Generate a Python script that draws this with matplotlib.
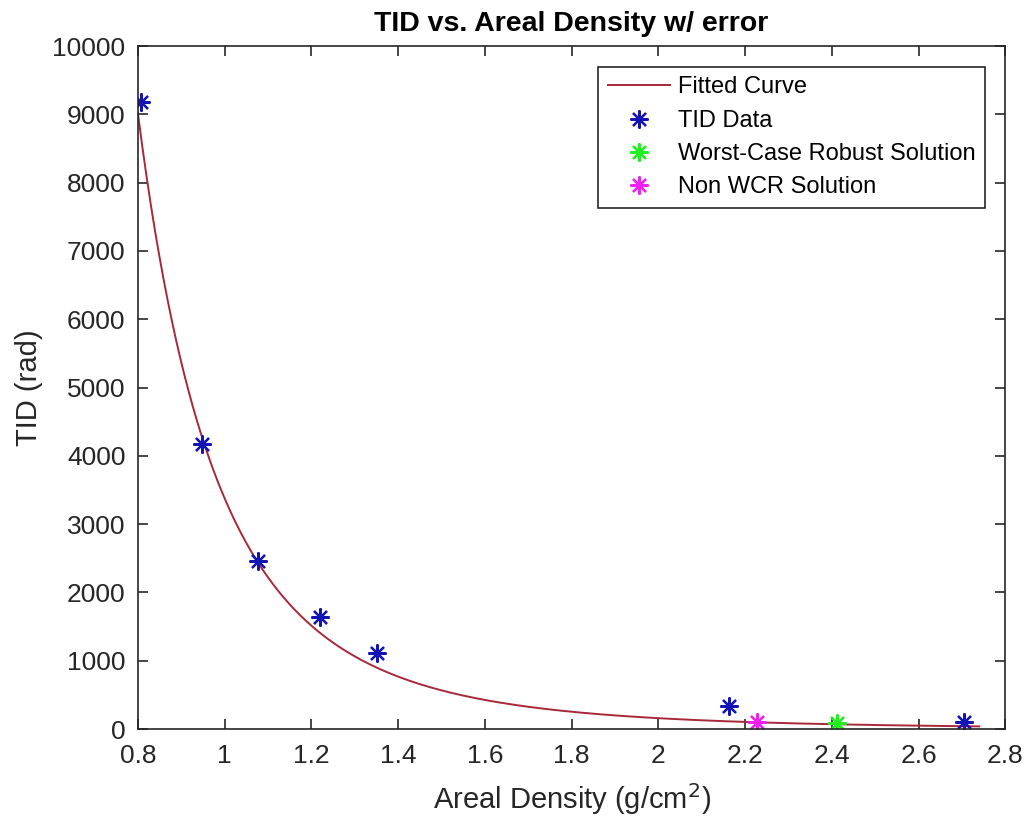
import numpy as np
import matplotlib
matplotlib.use("Agg")
import matplotlib.pyplot as plt

plt.rcParams["font.family"] = ["Liberation Sans", "DejaVu Sans"]

# ------- DATA ----------------------------------
tid_density = [0.807, 0.948, 1.078, 1.221, 1.351, 2.163, 2.704]
tid_values  = [9180, 4173, 2460, 1645, 1118, 337, 98]

wcr_density = [2.413]
wcr_values  = [83]

non_wcr_density = [2.227]
non_wcr_values  = [98]

# power-law fit TID = a * x^b, coefficients
FIT_A = 3378.0
FIT_B = -4.4
fit_range = (0.8, 2.74)

x_ticks = [0.8, 1, 1.2, 1.4, 1.6, 1.8, 2, 2.2, 2.4, 2.6, 2.8]
y_ticks = list(range(0, 10001, 1000))

# ------- CHART ----------
fig = plt.figure(figsize=(10.29, 8.22), dpi=100)
ax = fig.add_axes([0.134, 0.113, 0.843, 0.831])

xf = np.linspace(fit_range[0], fit_range[1], 400)
ax.plot(xf, FIT_A * xf ** FIT_B, color="#A8283A", linewidth=1.4, label="Fitted Curve")

star = (8, 2, 0)
ax.plot(tid_density, tid_values, linestyle="none", marker=star, markersize=13,
        markeredgewidth=1.6, color="#1414B4", label="TID Data")
ax.plot(wcr_density, wcr_values, linestyle="none", marker=star, markersize=13,
        markeredgewidth=1.6, color="#22EE22", label="Worst-Case Robust Solution")
ax.plot(non_wcr_density, non_wcr_values, linestyle="none", marker=star, markersize=13,
        markeredgewidth=1.6, color="#F020F0", label="Non WCR Solution")

ax.set_xlim(0.8, 2.8)
ax.set_ylim(0, 10000)
ax.set_xticks(x_ticks)
ax.set_xticklabels([f"{t:g}" for t in x_ticks])
ax.set_yticks(y_ticks)
ax.tick_params(direction="in", length=7, width=1.2, labelsize=19,
               top=True, right=True, colors="#262626", labelcolor="#262626")
ax.tick_params(axis="x", pad=11)
ax.tick_params(axis="y", pad=9)
for s in ax.spines.values():
    s.set_linewidth(1.2)
    s.set_color("#262626")

ax.set_title("TID vs. Areal Density w/ error", fontsize=20.5, fontweight="bold", pad=11)
ax.set_xlabel("Areal Density (g/cm$^2$)", fontsize=21, color="#262626", labelpad=9)
ax.set_ylabel("TID (rad)", fontsize=21, color="#262626", labelpad=7)

leg = ax.legend(loc="upper right", bbox_to_anchor=(0.977, 0.97), fontsize=17,
                frameon=True, fancybox=False, edgecolor="#262626", framealpha=1,
                handlelength=2.6, handletextpad=0.35, borderpad=0.42, labelspacing=0.48,
                borderaxespad=0)
leg.get_frame().set_linewidth(1.2)

plt.savefig("out.png", dpi=100)
